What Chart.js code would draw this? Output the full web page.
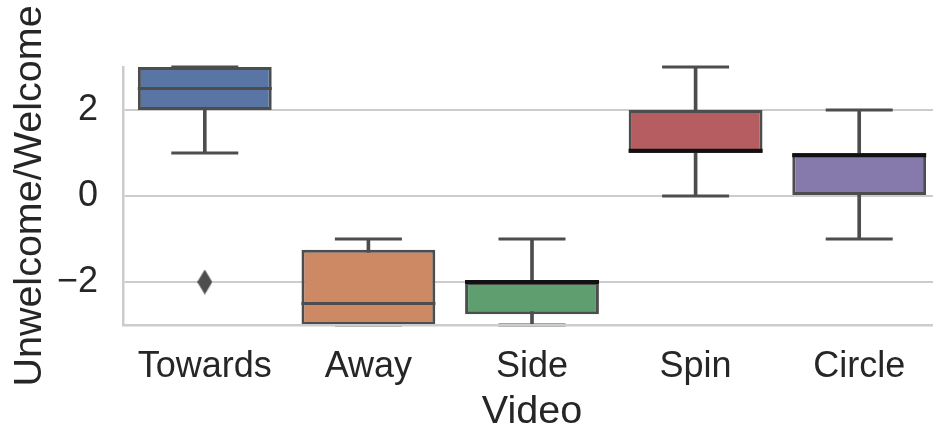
<!DOCTYPE html>
<html>
<head>
<meta charset="utf-8">
<script src="https://cdn.jsdelivr.net/npm/chart.js@4.4.0/dist/chart.umd.min.js"></script>
<style>
  html, body { margin: 0; padding: 0; background: #fff; overflow: hidden; }
</style>
</head>
<body>
<canvas id="boxChart" width="941" height="428"></canvas>
<script>
// Box plot data
const categories = ['Towards', 'Away', 'Side', 'Spin', 'Circle'];
const whiskerLow = [1, -3, -3, 0, -1];
const q1 = [2, -3, -2.75, 1, 0];
const median = [2.5, -2.5, -2, 1.05, 0.95];
const q3 = [3, -1.25, -2, 2, 1];
const whiskerHigh = [3, -1, -1, 3, 2];
const outliers = [-2, null, null, null, null];
const yTicks = [-2, 0, 2];

const boxColors = ['#5975a4', '#cc8963', '#5f9e6e', '#b55d60', '#857aab'];
const edge = '#4d4d4d';
const medianColors = [edge, edge, '#111111', '#111111', '#111111'];
const textColor = '#262626';
const gridColor = '#cccccc';
const fontFamily = '"Liberation Sans", Arial, sans-serif';

// thin diamond marker (seaborn 'd' flier)
function thinDiamond(w, h, color) {
    const c = document.createElement('canvas');
    c.width = w;
    c.height = h;
    const g = c.getContext('2d');
    g.fillStyle = color;
    g.beginPath();
    g.moveTo(w / 2, 0);
    g.lineTo(w, h / 2);
    g.lineTo(w / 2, h);
    g.lineTo(0, h / 2);
    g.closePath();
    g.fill();
    return c;
}

const pointLayer = {
    type: 'line',
    showLine: false,
    clip: 2
};

new Chart(document.getElementById('boxChart'), {
    data: {
        labels: categories,
        datasets: [
            {
                ...pointLayer,
                label: 'median',
                data: median,
                pointStyle: 'line',
                pointRadius: 67,
                pointBorderColor: medianColors,
                pointBorderWidth: [3, 3, 4, 4, 4]
            },
            {
                ...pointLayer,
                label: 'upper cap',
                data: whiskerHigh,
                pointStyle: 'line',
                pointRadius: 33.5,
                pointBorderColor: edge,
                pointBorderWidth: 3
            },
            {
                ...pointLayer,
                label: 'lower cap',
                data: whiskerLow,
                pointStyle: 'line',
                pointRadius: 33.5,
                pointBorderColor: edge,
                pointBorderWidth: 3
            },
            {
                ...pointLayer,
                label: 'outliers',
                data: outliers,
                pointStyle: thinDiamond(15, 25, edge),
                pointRadius: 8
            },
            {
                type: 'bar',
                label: 'box',
                data: categories.map((_, i) => [q1[i], q3[i]]),
                backgroundColor: boxColors,
                borderColor: edge,
                borderWidth: 3,
                borderSkipped: false,
                barPercentage: 0.818,
                categoryPercentage: 1,
                grouped: false
            },
            {
                type: 'bar',
                label: 'whisker',
                data: categories.map((_, i) => [whiskerLow[i], whiskerHigh[i]]),
                backgroundColor: edge,
                borderWidth: 0,
                barThickness: 3,
                grouped: false
            }
        ]
    },
    options: {
        responsive: false,
        animation: false,
        events: [],
        layout: {
            autoPadding: false,
            padding: { top: 67, right: 0, bottom: 0, left: 0 }
        },
        plugins: {
            legend: { display: false },
            tooltip: { enabled: false }
        },
        scales: {
            x: {
                type: 'category',
                offset: true,
                grid: { display: false },
                border: { color: gridColor, width: 2.5, z: 1 },
                ticks: {
                    color: textColor,
                    font: { family: fontFamily, size: 36 },
                    padding: 12
                },
                title: {
                    display: true,
                    text: 'Video',
                    color: textColor,
                    font: { family: fontFamily, size: 39.5 },
                    padding: { top: 0, bottom: -8 }
                },
                afterFit: (scale) => { scale.height = 103; }
            },
            y: {
                min: -3,
                max: 3,
                afterBuildTicks: (scale) => {
                    scale.ticks = yTicks.map(v => ({ value: v }));
                },
                grid: { color: gridColor, lineWidth: 2, drawTicks: false },
                border: { color: gridColor, width: 2.5 },
                ticks: {
                    color: textColor,
                    font: { family: fontFamily, size: 36 },
                    padding: 25,
                    callback: (v) => (v < 0 ? '\u2212' + Math.abs(v) : String(v))
                },
                title: {
                    display: true,
                    text: 'Unwelcome/Welcome',
                    color: textColor,
                    font: { family: fontFamily, size: 39.5 },
                    padding: { top: 6, bottom: 0 }
                },
                afterFit: (scale) => { scale.width = 123; }
            }
        }
    }
});
</script>
</body>
</html>
